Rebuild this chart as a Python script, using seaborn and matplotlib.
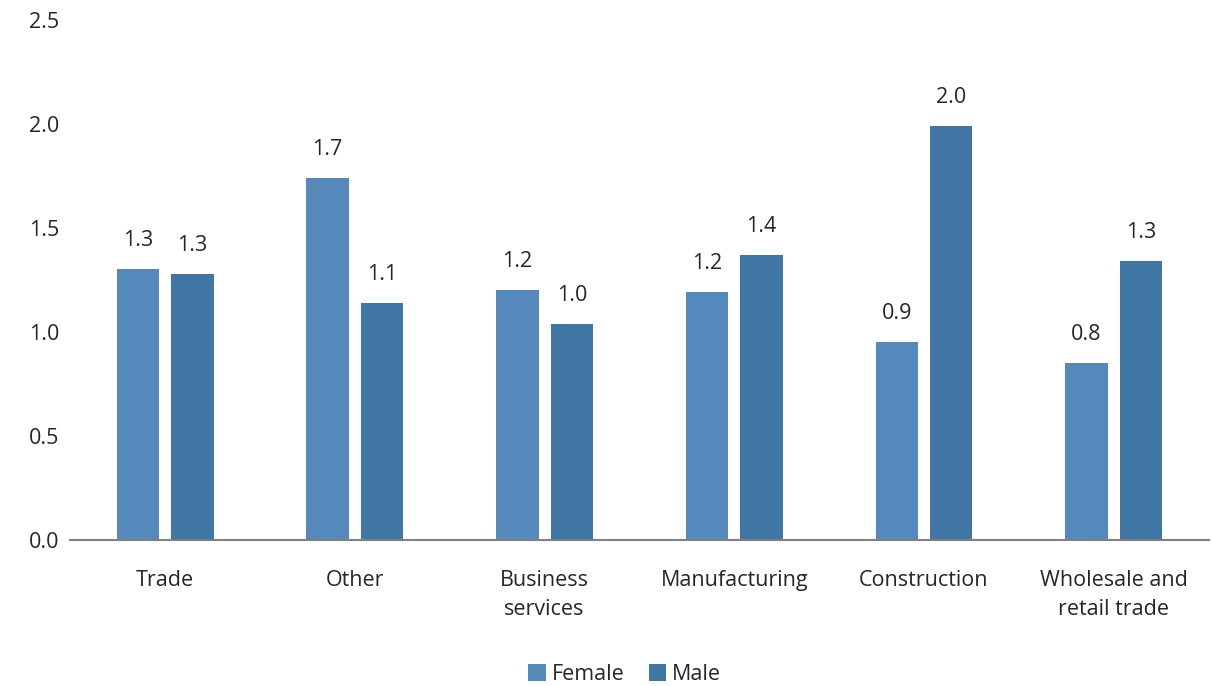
import pandas as pd
import numpy as np
import matplotlib.pyplot as plt
import seaborn as sns

# Dữ liệu
categories = ['Trade', 'Other', 'Business\nservices', 'Manufacturing', 'Construction', 'Wholesale and\nretail trade']
female = [1.30, 1.74, 1.20, 1.19, 0.95, 0.85]
male = [1.28, 1.14, 1.04, 1.37, 1.99, 1.34]
series = ['Female', 'Male']
colors = ['#5589bb', '#3f76a4']

df = pd.DataFrame({
    'category': categories * 2,
    'value': female + male,
    'sex': ['Female'] * len(categories) + ['Male'] * len(categories),
})

sns.set_style('white')
plt.rcParams['font.family'] = ['Open Sans', 'DejaVu Sans']

fig = plt.figure(figsize=(12.11, 6.86), dpi=100)
ax = fig.add_axes([0.058, 0.213, 0.94, 0.758])

sns.barplot(data=df, x='category', y='value', hue='sex', hue_order=series,
            palette=colors, width=0.574, gap=0.22, saturation=1, linewidth=0, ax=ax)

# Nhãn giá trị trên mỗi cột
for cont in ax.containers:
    ax.bar_label(cont, fmt='%.1f', padding=13, fontsize=15.5)

ax.set_ylim(0, 2.5)
ax.set_yticks(np.arange(0, 2.51, 0.5))
ax.set_yticklabels([f'{v:.1f}' for v in np.arange(0, 2.51, 0.5)])
ax.set_xlim(-0.5, len(categories) - 0.5)
ax.set_xlabel('')
ax.set_ylabel('')
ax.tick_params(axis='both', length=0, labelsize=15.5)
ax.tick_params(axis='x', pad=22)
ax.tick_params(axis='y', pad=30)
for lab in ax.get_yticklabels():
    lab.set_horizontalalignment('left')
for lab in ax.get_xticklabels():
    lab.set_linespacing(1.5)
for s in ['top', 'right', 'left']:
    ax.spines[s].set_visible(False)
ax.spines['bottom'].set_color('#808080')
ax.spines['bottom'].set_linewidth(1.5)

ax.legend_.remove()
handles, labels = ax.get_legend_handles_labels()
fig.legend(handles, labels, loc='center', bbox_to_anchor=(0.516, 0.017), ncol=2, frameon=False,
           fontsize=15.5, handlelength=0.8, handleheight=0.8, handletextpad=0.3, columnspacing=1.1)

fig.savefig('out.png', dpi=100)
